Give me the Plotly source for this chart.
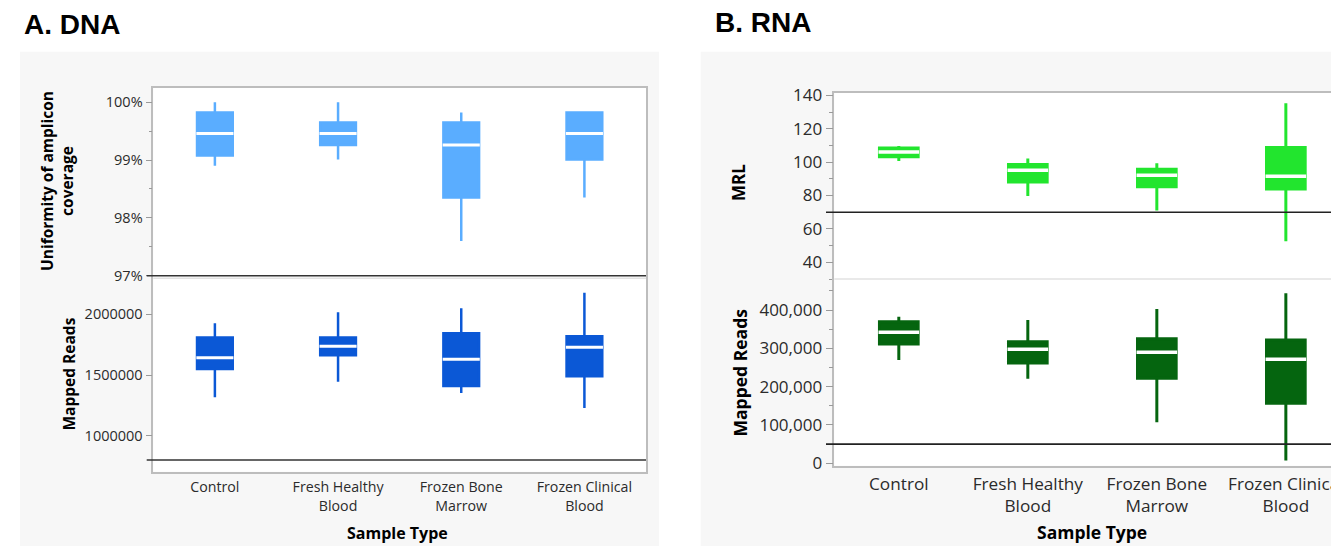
import plotly.graph_objects as go

W, H = 1331, 546


def px(x):
    return x / W


def py(y):
    return 1 - y / H


# ---------------- data ----------------
categories = ["Control", "Fresh Healthy<br>Blood", "Frozen Bone<br>Marrow", "Frozen Clinical<br>Blood"]

# A. DNA - Uniformity of amplicon coverage (%)
dna_unif_min = [98.90, 99.01, 97.60, 98.35]
dna_unif_q1 = [99.08, 99.26, 98.35, 99.01]
dna_unif_med = [99.46, 99.46, 99.26, 99.46]
dna_unif_q3 = [99.82, 99.65, 99.65, 99.82]
dna_unif_max = [100.0, 100.0, 99.82, 99.82]

# A. DNA - Mapped Reads
dna_reads_min = [1316000, 1445000, 1352000, 1228000]
dna_reads_q1 = [1550000, 1662000, 1409000, 1489000]
dna_reads_med = [1643000, 1736000, 1629000, 1728000]
dna_reads_q3 = [1808000, 1808000, 1843000, 1819000]
dna_reads_max = [1926000, 2016000, 2049000, 2178000]

# B. RNA - MRL
rna_mrl_min = [100.6, 79.7, 71.1, 52.6]
rna_mrl_q1 = [103.2, 88.1, 85.3, 83.9]
rna_mrl_med = [106.0, 95.2, 92.2, 91.6]
rna_mrl_q3 = [108.4, 98.6, 95.8, 108.8]
rna_mrl_max = [109.6, 102.2, 99.4, 135.2]

# B. RNA - Mapped Reads
rna_reads_min = [269500, 220800, 106900, 7000]
rna_reads_q1 = [311300, 261700, 221700, 156500]
rna_reads_med = [341700, 297400, 289600, 271300]
rna_reads_q3 = [369600, 317400, 325200, 321700]
rna_reads_max = [382600, 373900, 402600, 443500]

# reference thresholds
dna_unif_threshold = 97
dna_reads_threshold = 800000
rna_mrl_threshold = 70
rna_reads_threshold = 50000

# ---------------- styles ----------------
C_DNA_TOP = "#5aadff"
C_DNA_BOT = "#0b58d6"
C_RNA_TOP = "#22e52e"
C_RNA_BOT = "#05650f"
FRAME = "#bdbdbd"
SEP = "#e2e2e2"
TICKC = "#9a9a9a"
TXT = "#2b2b2b"
FONT = "Open Sans"

fig = go.Figure()


def add_box(xa, ya, lo, q1, med, q3, hi, color, width, msize, mlw, lw):
    fig.add_trace(go.Box(
        x=categories, q1=q1, median=med, q3=q3, lowerfence=lo, upperfence=hi,
        xaxis=xa, yaxis=ya, fillcolor=color, line=dict(color=color, width=lw),
        whiskerwidth=0, width=width, boxpoints=False, hoverinfo="skip", showlegend=False))
    fig.add_trace(go.Scatter(
        x=categories, y=med, xaxis=xa, yaxis=ya, mode="markers",
        marker=dict(symbol="line-ew", size=msize, color="white",
                    line=dict(color="white", width=mlw)),
        hoverinfo="skip", showlegend=False))


add_box("x", "y", dna_unif_min, dna_unif_q1, dna_unif_med, dna_unif_q3, dna_unif_max,
        C_DNA_TOP, 0.29, 26.5, 3, 2.5)
add_box("x2", "y2", dna_reads_min, dna_reads_q1, dna_reads_med, dna_reads_q3, dna_reads_max,
        C_DNA_BOT, 0.29, 26.5, 3, 2.5)
add_box("x3", "y3", rna_mrl_min, rna_mrl_q1, rna_mrl_med, rna_mrl_q3, rna_mrl_max,
        C_RNA_TOP, 0.30, 29, 3.5, 3)
add_box("x4", "y4", rna_reads_min, rna_reads_q1, rna_reads_med, rna_reads_q3, rna_reads_max,
        C_RNA_BOT, 0.30, 29, 3.5, 3)

# ---------------- axes ----------------
L_X0, L_X1 = 153.3, 646.0
R_X0 = 834.3

common_x = dict(type="category", showgrid=False, zeroline=False, linecolor=FRAME, linewidth=1.5,
                ticks="", fixedrange=True, automargin=False)
common_y = dict(showgrid=False, zeroline=False, linecolor=FRAME, linewidth=1.5, ticks="outside",
                tickcolor=TICKC, tickwidth=1, fixedrange=True, automargin=False)

fig.update_layout(
    xaxis=dict(common_x, domain=[px(L_X0), px(L_X1)], anchor="y", range=[-0.5, 3.5],
               showticklabels=False, showline=True, side="top"),
    yaxis=dict(common_y, domain=[py(278.3), py(87.7)], anchor="x", range=[96.955, 100.25],
               dtick=1, tick0=97, ticksuffix="%", ticklen=6, showline=True, mirror=True,
               tickfont=dict(family=FONT, size=14.5, color=TXT),
               minor=dict(dtick=0.5, tick0=97, ticklen=3, tickcolor=TICKC, ticks="outside")),
    xaxis2=dict(common_x, domain=[px(L_X0), px(L_X1)], anchor="y2", range=[-0.5, 3.5],
                showline=True, tickfont=dict(family=FONT, size=14.2, color=TXT),
                ticklabelstandoff=2),
    yaxis2=dict(common_y, domain=[py(471.7), py(278.3)], anchor="x2", range=[703500, 2296500],
                tickvals=[1000000, 1500000, 2000000], tickformat="d", ticklen=6,
                showline=True, mirror=True,
                tickfont=dict(family=FONT, size=14.5, color=TXT)),
    xaxis3=dict(common_x, domain=[px(R_X0), 1.0], anchor="y3", range=[-0.5, 3.35],
                showticklabels=False, showline=True, side="top"),
    yaxis3=dict(common_y, domain=[py(279), py(92.5)], anchor="x3", range=[30, 141.7],
                dtick=20, tick0=0, ticklen=7, showline=True,
                tickfont=dict(family=FONT, size=17, color=TXT),
                minor=dict(dtick=10, tick0=0, ticklen=4, tickcolor=TICKC, ticks="outside")),
    xaxis4=dict(common_x, domain=[px(R_X0), 1.0], anchor="y4", range=[-0.5, 3.35],
                showline=True, tickfont=dict(family=FONT, size=17.2, color=TXT),
                ticklabelstandoff=2),
    yaxis4=dict(common_y, domain=[py(465.7), py(279)], anchor="x4", range=[-6260, 480900],
                dtick=100000, tick0=0, tickformat=",d", ticklen=7, showline=True,
                tickfont=dict(family=FONT, size=17, color=TXT),
                minor=dict(dtick=50000, tick0=0, ticklen=4, tickcolor=TICKC, ticks="outside")),
)

# ---------------- shapes (panels, separators, thresholds) ----------------
shapes = [
    dict(type="rect", xref="paper", yref="paper", x0=px(20), x1=px(659), y0=0, y1=py(51.7),
         fillcolor="#f7f7f7", line=dict(width=0), layer="below"),
    dict(type="rect", xref="paper", yref="paper", x0=px(700.7), x1=1, y0=0, y1=py(51.7),
         fillcolor="#f7f7f7", line=dict(width=0), layer="below"),
    dict(type="rect", xref="paper", yref="paper", x0=px(L_X0), x1=px(L_X1), y0=py(471.7),
         y1=py(87.7), fillcolor="white", line=dict(width=0), layer="below"),
    dict(type="rect", xref="paper", yref="paper", x0=px(R_X0), x1=1, y0=py(465.7),
         y1=py(92.5), fillcolor="white", line=dict(width=0), layer="below"),
    dict(type="line", xref="paper", yref="paper", x0=px(L_X0), x1=px(L_X1), y0=py(278.3),
         y1=py(278.3), line=dict(color=SEP, width=1.5)),
    dict(type="line", xref="paper", yref="paper", x0=px(R_X0), x1=1, y0=py(279),
         y1=py(279), line=dict(color=SEP, width=1.5)),
    dict(type="line", xref="x domain", yref="y", x0=-0.0134, x1=1, y0=dna_unif_threshold,
         y1=dna_unif_threshold, line=dict(color="#333333", width=1.6)),
    dict(type="line", xref="x2 domain", yref="y2", x0=-0.0134, x1=1, y0=dna_reads_threshold,
         y1=dna_reads_threshold, line=dict(color="#333333", width=1.6)),
    dict(type="line", xref="x3 domain", yref="y3", x0=-0.0167, x1=1, y0=rna_mrl_threshold,
         y1=rna_mrl_threshold, line=dict(color="#222222", width=1.6)),
    dict(type="line", xref="x4 domain", yref="y4", x0=-0.0167, x1=1, y0=rna_reads_threshold,
         y1=rna_reads_threshold, line=dict(color="#222222", width=1.6)),
]

# ---------------- text ----------------
def ann(text, x, y, size, bold=True, angle=0, family=FONT, xanchor="center", color="black"):
    return dict(text=f"<b>{text}</b>" if bold else text, x=px(x), y=py(y), xref="paper",
                yref="paper", showarrow=False, textangle=angle, xanchor=xanchor,
                yanchor="middle", font=dict(family=family, size=size, color=color))


annotations = [
    ann("A. DNA", 22, 24.7, 28, family="Liberation Sans, Arial", xanchor="left"),
    ann("B. RNA", 713, 22.5, 28, family="Liberation Sans, Arial", xanchor="left"),
    ann("Uniformity of amplicon<br>coverage", 57.5, 181.5, 15.5, angle=-90),
    ann("Mapped Reads", 68, 374.5, 15.5, angle=-90),
    ann("Sample Type", 397.5, 533, 16),
    ann("MRL", 739, 183, 17, angle=-90),
    ann("Mapped Reads", 739, 372.5, 17.5, angle=-90),
    ann("Sample Type", 1092, 532, 17.5),
]

fig.update_layout(
    width=W, height=H, autosize=False,
    margin=dict(l=0, r=0, t=0, b=0, autoexpand=False),
    paper_bgcolor="white", plot_bgcolor="white",
    showlegend=False, boxmode="overlay",
    shapes=shapes, annotations=annotations,
    font=dict(family=FONT, color=TXT),
)

post = ("document.documentElement.style.margin='0';document.body.style.margin='0';"
        "document.body.style.padding='0';document.documentElement.style.overflow='hidden';"
        "document.body.style.overflow='hidden';")

fig.write_html("out.html", config={"displayModeBar": False}, post_script=post)
